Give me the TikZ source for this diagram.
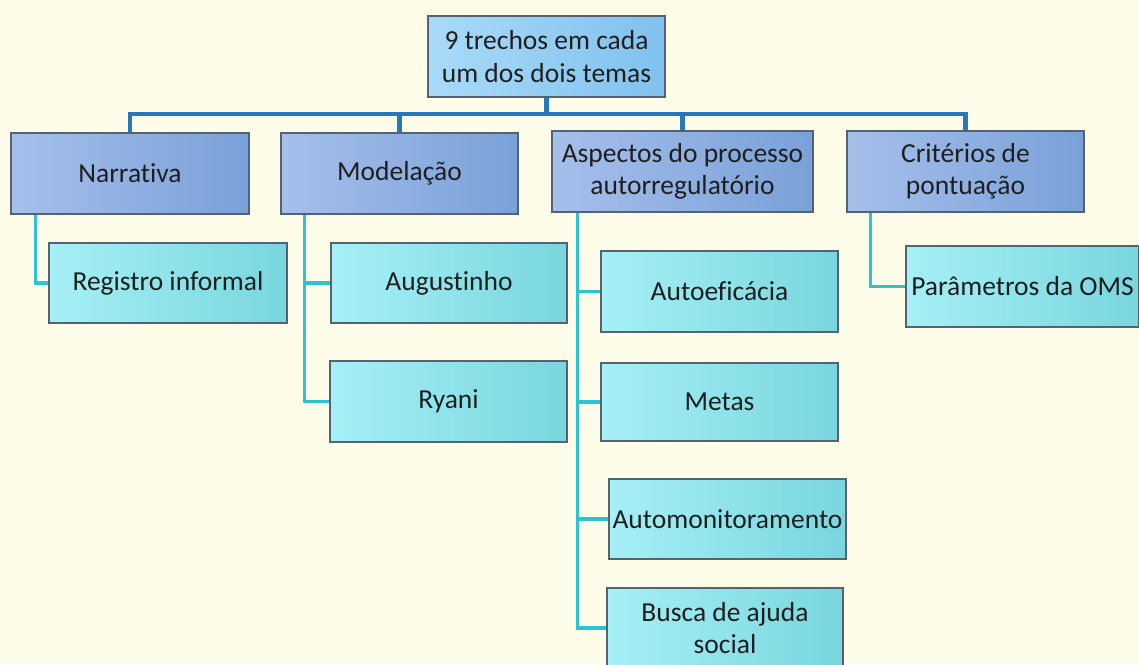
\documentclass[tikz,border=0pt]{standalone}
\usepackage{fontspec}
\setmainfont{Carlito}[Ligatures=CommonOff]
\definecolor{bgcream}{HTML}{FDFCE8}
\definecolor{rimgray}{HTML}{55626F}
\definecolor{busblue}{HTML}{2578BE}
\definecolor{subcyan}{HTML}{2BC4D3}
\definecolor{headlight}{HTML}{A9DAF8}
\definecolor{headdark}{HTML}{80C1EE}
\definecolor{grouplight}{HTML}{A6BFEB}
\definecolor{groupdark}{HTML}{79A1D8}
\definecolor{itemlight}{HTML}{A6F0F6}
\definecolor{itemdark}{HTML}{79D6DE}
\tikzset{
  box/.style={draw=rimgray, line width=1.1pt, minimum width=237pt, minimum height=81pt,
    inner sep=2pt, align=center, text=black!88, font=\fontsize{27.5}{32.5}\selectfont},
  headbox/.style={box, left color=headlight, right color=headdark},
  groupbox/.style={box, left color=grouplight, right color=groupdark},
  itembox/.style={box, left color=itemlight, right color=itemdark},
  busline/.style={busblue, line width=4.5pt},
  subline/.style={subcyan, line width=3.5pt}
}
\begin{document}
\begin{tikzpicture}[x=1pt,y=-1pt]
  \useasboundingbox (0,0) rectangle (1139,664);
  \fill[bgcream] (0,0) rectangle (1139,664);
  \coordinate (bus) at (0,114);

  % top and first level
  \node[headbox] (top) at (546.5,56.5) {9 trechos em cada\\um dos dois temas};
  \node[groupbox, minimum width=238pt] (narr) at (130,173.5) {Narrativa};
  \node[groupbox] (model) at (399.5,173.5) {Modelação};
  \node[groupbox, minimum width=261pt] (aspect) at (682.5,171.5) {Aspectos do processo\\autorregulatório};
  \node[groupbox] (crit) at (965.5,171.5) {Critérios de\\pontuação};

  % second level
  \node[itembox, minimum width=238pt, minimum height=80pt] (reg) at (168,283) {Registro informal};
  \node[itembox, minimum width=236pt, minimum height=80pt] (aug) at (449,283) {Augustinho};
  \node[itembox] (ryani) at (448.5,401.5) {Ryani};
  \node[itembox] (autoef) at (719.5,291.5) {Autoeficácia};
  \node[itembox, minimum height=78pt] (metas) at (719.5,402) {Metas};
  \node[itembox, minimum height=80pt, inner sep=0pt] (automon) at (727.5,519) {Automonitoramento};
  \node[itembox, minimum width=236pt, minimum height=80pt] (busca) at (725,628) {Busca de ajuda\\social};
  \node[itembox, minimum width=233pt, inner sep=0pt] (param) at (1022.5,286.5) {Parâmetros da OMS};

  \foreach \g in {narr,model,aspect,crit}
    \draw[busline] (top.south) -- (top.south |- bus) -| (\g.north);

  \draw[subline] ([xshift=25pt]narr.south west) |- (reg.west);
  \foreach \s in {aug,ryani}
    \draw[subline] ([xshift=24pt]model.south west) |- (\s.west);
  \foreach \s in {autoef,metas,automon,busca}
    \draw[subline] ([xshift=26pt]aspect.south west) |- (\s.west);
  \draw[subline] ([xshift=24pt]crit.south west) |- (param.west);
\end{tikzpicture}
\end{document}
